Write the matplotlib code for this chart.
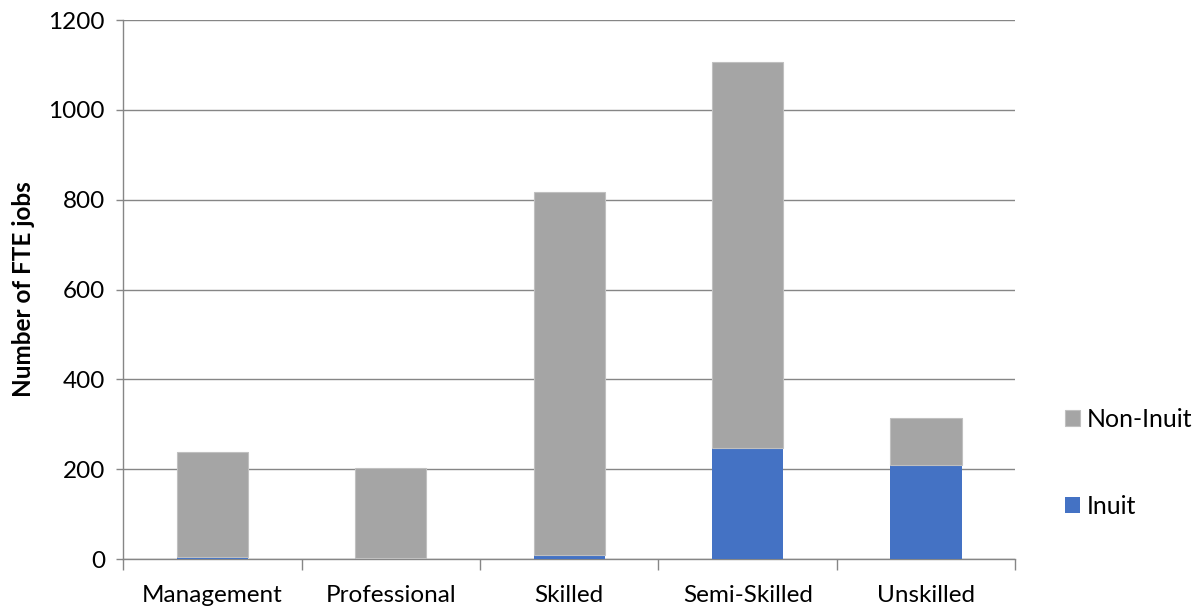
import matplotlib.pyplot as plt
import numpy as np

categories = ["Management", "Professional", "Skilled", "Semi-Skilled", "Unskilled"]
inuit = [5, 3, 10, 248, 209]
non_inuit = [233, 200, 807, 859, 105]
yticks = [0, 200, 400, 600, 800, 1000, 1200]

plt.rcParams['font.family'] = ['Lato', 'DejaVu Sans']

fig = plt.figure(figsize=(11.97, 6.09), dpi=100)
ax = fig.add_axes([0.1028, 0.0821, 0.7455, 0.885])

x = np.arange(len(categories))
w = 0.4
blue = "#4472C4"
gray = "#A5A5A5"
b1 = ax.bar(x, inuit, width=w, color=blue, label="Inuit", zorder=3)
b2 = ax.bar(x, non_inuit, width=w, bottom=inuit, color=gray, label="Non-Inuit",
            edgecolor="#C0C0C0", linewidth=0.8, zorder=3)

fs = 17.5
ax.set_xlim(-0.5, len(categories) - 0.5)
ax.set_ylim(0, 1200)
ax.set_yticks(yticks)
ax.set_yticklabels([str(t) for t in yticks], fontsize=fs)
ax.yaxis.grid(True, color="#868686", linewidth=1.0, zorder=0)
ax.set_axisbelow(True)

ax.set_xticks(x)
ax.set_xticklabels(categories, fontsize=fs)
ax.tick_params(axis='x', which='major', length=0, pad=19)
ax.set_xticks(np.arange(-0.5, len(categories)), minor=True)
ax.tick_params(axis='x', which='minor', length=8, color="#868686", width=1)
ax.tick_params(axis='y', length=5, color="#868686", width=1, pad=8)

for s in ["top", "right"]:
    ax.spines[s].set_visible(False)
for s in ["left", "bottom"]:
    ax.spines[s].set_color("#868686")
    ax.spines[s].set_linewidth(1)

ax.set_ylabel("Number of FTE jobs", fontsize=17.5, fontweight="bold", labelpad=10)

leg = ax.legend([b2, b1], ["Non-Inuit", "Inuit"], loc="center left",
                bbox_to_anchor=(1.03, 0.178), frameon=False, fontsize=18,
                handlelength=0.6, handleheight=0.6, handletextpad=0.3,
                labelspacing=2.55)

fig.savefig("out.png", dpi=100)
